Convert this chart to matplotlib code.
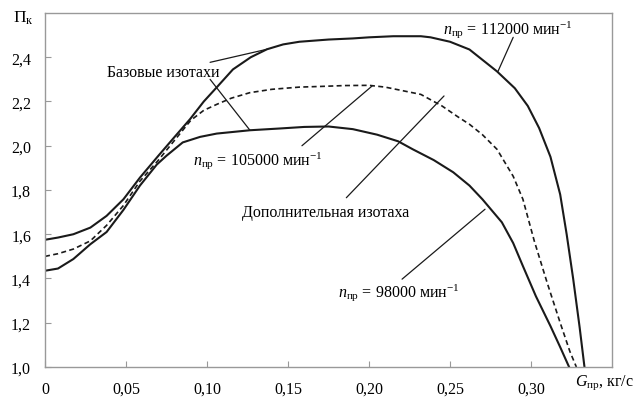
import numpy as np
import matplotlib.pyplot as plt

plt.rcParams['font.family'] = ['Liberation Serif', 'DejaVu Serif']
plt.rcParams['mathtext.fontset'] = 'custom'
plt.rcParams['mathtext.rm'] = 'Liberation Serif'
plt.rcParams['mathtext.it'] = 'Liberation Serif:italic'

# изотаха n = 112000 (базовая)
g_112 = [0.000, 0.008, 0.0175, 0.028, 0.038, 0.0484, 0.0586, 0.070, 0.080,
         0.0895, 0.098, 0.106, 0.116, 0.127, 0.137, 0.147, 0.157, 0.175, 0.190,
         0.200, 0.215, 0.232, 0.238, 0.250, 0.262, 0.279, 0.290, 0.298, 0.305,
         0.312, 0.318, 0.322, 0.326, 0.330, 0.333]
pk_112 = [1.575, 1.585, 1.60, 1.63, 1.683, 1.758, 1.856, 1.955, 2.04,
          2.12, 2.20, 2.264, 2.345, 2.40, 2.436, 2.458, 2.47, 2.48, 2.485,
          2.49, 2.495, 2.495, 2.49, 2.47, 2.435, 2.336, 2.26, 2.18, 2.08,
          1.95, 1.78, 1.60, 1.40, 1.18, 1.00]

# дополнительная изотаха n = 105000
g_105 = [0.000, 0.008, 0.0175, 0.028, 0.038, 0.0484, 0.0586, 0.070, 0.080,
         0.090, 0.098, 0.106, 0.115, 0.1265, 0.140, 0.157, 0.170, 0.185, 0.200,
         0.210, 0.220, 0.232, 0.245, 0.255, 0.262, 0.270, 0.279, 0.289, 0.295,
         0.302, 0.310, 0.318, 0.324, 0.328]
pk_105 = [1.50, 1.512, 1.533, 1.57, 1.64, 1.73, 1.84, 1.935, 2.025,
          2.115, 2.16, 2.187, 2.215, 2.24, 2.255, 2.265, 2.268, 2.272, 2.273,
          2.265, 2.25, 2.232, 2.18, 2.13, 2.097, 2.05, 1.984, 1.862, 1.758,
          1.57, 1.38, 1.20, 1.07, 1.00]

# изотаха n = 98000 (базовая)
g_98 = [0.000, 0.008, 0.0175, 0.028, 0.038, 0.0484, 0.0586, 0.069, 0.075,
        0.080, 0.085, 0.0957, 0.106, 0.1265, 0.145, 0.160, 0.175, 0.190, 0.205,
        0.218, 0.227, 0.240, 0.252, 0.262, 0.270, 0.282, 0.289, 0.295, 0.303,
        0.312, 0.318, 0.3235]
pk_98 = [1.435, 1.445, 1.488, 1.555, 1.61, 1.71, 1.82, 1.915, 1.955,
         1.985, 2.015, 2.04, 2.055, 2.07, 2.078, 2.085, 2.087, 2.075, 2.05,
         2.02, 1.984, 1.935, 1.88, 1.82, 1.758, 1.654, 1.56, 1.456, 1.32,
         1.185, 1.09, 1.00]

x_ticks = [0, 0.05, 0.10, 0.15, 0.20, 0.25, 0.30]
x_labels = ['0', '0,05', '0,10', '0,15', '0,20', '0,25', '0,30']
y_ticks = [1.0, 1.2, 1.4, 1.6, 1.8, 2.0, 2.2, 2.4]
y_labels = ['1,0', '1,2', '1,4', '1,6', '1,8', '2,0', '2,2', '2,4']

fig = plt.figure(figsize=(6.35, 4.02), dpi=100)
ax = fig.add_axes([0.0709, 0.0846, 0.8929, 0.8806])

ax.plot(g_112, pk_112, color='#1a1a1a', lw=1.5)
ax.plot(g_105, pk_105, color='#1a1a1a', lw=1.2, linestyle=(0, (3, 2)))
ax.plot(g_98, pk_98, color='#1a1a1a', lw=1.5)

ax.set_xlim(0, 0.35)
ax.set_ylim(1.0, 2.6)
ax.set_xticks(x_ticks)
ax.set_xticklabels(x_labels)
ax.set_yticks(y_ticks)
ax.set_yticklabels(y_labels)
ax.tick_params(direction='in', length=4, width=0.8, color='#999999',
               labelsize=11.5, pad=10)
for s in ax.spines.values():
    s.set_color('#999999')
    s.set_linewidth(1.0)

# подписи и выноски
fs = 11.5
ax.text(0.0383, 2.332, 'Базовые изотахи', fontsize=fs, va='center')
ax.text(0.0914, 1.939, r'$\mathit{n}_{\mathrm{пр}}$ = 105000 мин$^{-1}$',
        fontsize=fs, va='center')
ax.text(0.2457, 2.53, r'$\mathit{n}_{\mathrm{пр}}$ = 112000 мин$^{-1}$',
        fontsize=fs, va='center')
ax.text(0.1216, 1.70, 'Дополнительная изотаха', fontsize=fs, va='center')
ax.text(0.181, 1.343, r'$\mathit{n}_{\mathrm{пр}}$ = 98000 мин$^{-1}$',
        fontsize=fs, va='center')

leaders = [((0.1019, 2.377), (0.137, 2.436)),
           ((0.1019, 2.300), (0.1265, 2.07)),
           ((0.1586, 2.0), (0.2019, 2.27)),
           ((0.289, 2.49), (0.2796, 2.336)),
           ((0.2463, 2.225), (0.1860, 1.765)),
           ((0.2204, 1.397), (0.2716, 1.713))]
for a, b in leaders:
    ax.annotate('', xy=b, xytext=a,
                arrowprops=dict(arrowstyle='-', color='#1a1a1a', lw=0.9,
                                shrinkA=0, shrinkB=0))

ax.text(-0.0198, 2.582, r'$\Pi_{\mathrm{к}}$', fontsize=fs + 1, va='center',
        clip_on=False)
ax.text(0.327, 0.932, r'$\mathit{G}_{\mathrm{пр}}$, кг/с', fontsize=fs,
        va='center', clip_on=False)

fig.savefig('out.png', dpi=100)
